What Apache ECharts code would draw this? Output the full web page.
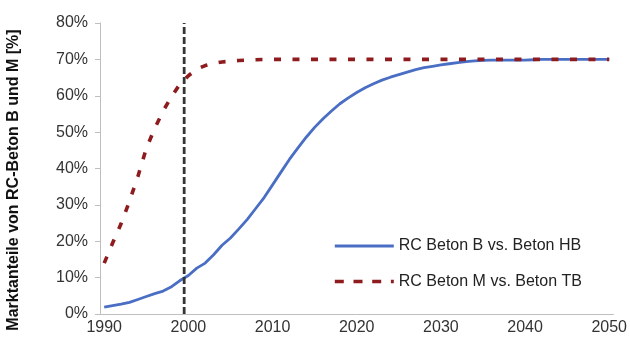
<!DOCTYPE html>
<html>
<head>
<meta charset="utf-8">
<script src="https://cdn.jsdelivr.net/npm/echarts@6/dist/echarts.min.js"></script>
<style>
  html, body { margin: 0; padding: 0; background: #ffffff; }
  #chart { width: 630px; height: 345px; }
</style>
</head>
<body>
<div id="chart"></div>
<script>
// Years on the category axis
const years = [
  1990, 1991, 1992, 1993, 1994, 1995, 1996, 1997, 1998, 1999,
  2000, 2001, 2002, 2003, 2004, 2005, 2006, 2007, 2008, 2009,
  2010, 2011, 2012, 2013, 2014, 2015, 2016, 2017, 2018, 2019,
  2020, 2021, 2022, 2023, 2024, 2025, 2026, 2027, 2028, 2029,
  2030, 2031, 2032, 2033, 2034, 2035, 2036, 2037, 2038, 2039,
  2040, 2041, 2042, 2043, 2044, 2045, 2046, 2047, 2048, 2049,
  2050
];

// Market share (%) of recycled concrete B vs. building construction concrete
const shareB = [
  1.9, 2.3, 2.7, 3.2, 4.0, 4.8, 5.6, 6.3, 7.5, 9.2,
  10.6, 12.6, 14.0, 16.3, 18.9, 20.9, 23.4, 26.0, 29.0, 32.0,
  35.5, 39.0, 42.5, 45.6, 48.6, 51.3, 53.7, 55.8, 57.8, 59.4,
  60.9, 62.2, 63.3, 64.3, 65.1, 65.8, 66.5, 67.2, 67.7, 68.1,
  68.5, 68.8, 69.1, 69.4, 69.6, 69.7, 69.8, 69.8, 69.8, 69.8,
  69.8, 69.9, 70, 70, 70, 70, 70, 70, 70, 70,
  70
];

// Market share (%) of recycled concrete M vs. civil engineering concrete
const shareM = [
  14.0, 19.5, 24.8, 31.0, 37.8, 45.5, 51.0, 55.8, 59.8, 63.2,
  65.5, 67.3, 68.3, 68.9, 69.3, 69.5, 69.7, 69.8, 69.9, 70,
  70, 70, 70, 70, 70, 70, 70, 70, 70, 70,
  70, 70, 70, 70, 70, 70, 70, 70, 70, 70,
  70, 70, 70, 70, 70, 70, 70, 70, 70, 70,
  70, 70, 70, 70, 70, 70, 70, 70, 70, 70,
  70
];

const seriesNames = ['RC Beton B vs. Beton HB', 'RC Beton M vs. Beton TB'];
const yTicks = { min: 0, max: 80, step: 10 };
const markerYear = 2000;

const chart = echarts.init(document.getElementById('chart'), null, { renderer: 'canvas' });

const axisGrey = '#bfbfbf';
const blue = '#4a6ec4';
const darkRed = '#8e1b1d';
const labelFont = { fontFamily: 'Liberation Sans, Arial, sans-serif', fontSize: 16, color: '#333333' };

chart.setOption({
  animation: false,
  backgroundColor: '#ffffff',
  grid: { left: 100, right: 15, top: 23, bottom: 31, containLabel: false },
  xAxis: [
    {
      type: 'category',
      data: years,
      boundaryGap: true,
      axisLine: { lineStyle: { color: axisGrey, width: 1 } },
      axisTick: { interval: 9, length: 5, lineStyle: { color: axisGrey } },
      axisLabel: Object.assign({ interval: 9, margin: 6 }, labelFont),
      splitLine: { show: false }
    },
    {
      // continuous year scale spanning the same width, used for the marker line
      type: 'value',
      min: years[0],
      max: years[years.length - 1] + 1,
      show: false,
      splitLine: { show: false }
    }
  ],
  yAxis: {
    type: 'value',
    min: yTicks.min,
    max: yTicks.max,
    interval: yTicks.step,
    axisLine: { show: true, lineStyle: { color: axisGrey, width: 1 } },
    axisTick: { show: true, length: 5, lineStyle: { color: axisGrey } },
    axisLabel: Object.assign({ formatter: '{value}%', margin: 12 }, labelFont),
    splitLine: { show: false }
  },
  legend: {
    data: [
      { name: seriesNames[0], lineStyle: { color: blue, width: 2.8, type: 'solid' } },
      { name: seriesNames[1], lineStyle: { color: darkRed, width: 3.6, type: [9, 9.7] } }
    ],
    orient: 'vertical',
    left: 333,
    top: 238,
    padding: 0,
    itemWidth: 59,
    itemHeight: 14,
    itemGap: 19.5,
    itemStyle: { opacity: 0, borderWidth: 0 },
    textStyle: { fontFamily: 'Liberation Sans, Arial, sans-serif', fontSize: 16, color: '#222222', lineHeight: 16 },
    selectedMode: false
  },
  graphic: [
    {
      type: 'text',
      x: 14,
      y: 180,
      rotation: Math.PI / 2,
      style: {
        text: 'Marktanteile von RC-Beton B und M [%]',
        fontFamily: 'Liberation Sans, Arial, sans-serif',
        fontSize: 16,
        fontWeight: 'bold',
        fill: '#111111',
        align: 'center',
        verticalAlign: 'middle'
      }
    }
  ],
  series: [
    {
      name: seriesNames[0],
      type: 'line',
      data: shareB,
      symbol: 'none',
      smooth: false,
      lineStyle: { color: blue, width: 2.8 },
      itemStyle: { color: blue },
      z: 2
    },
    {
      name: seriesNames[1],
      type: 'line',
      data: shareM,
      symbol: 'none',
      smooth: false,
      lineStyle: { color: darkRed, width: 3.6, type: [7, 11.5] },
      itemStyle: { color: darkRed },
      z: 3
    },
    {
      name: 'marker',
      type: 'line',
      xAxisIndex: 1,
      data: [[markerYear, yTicks.min], [markerYear, yTicks.max]],
      symbol: 'none',
      silent: true,
      lineStyle: { color: '#353535', width: 2.8, type: [7, 3] },
      z: 4
    }
  ]
});
</script>
</body>
</html>
